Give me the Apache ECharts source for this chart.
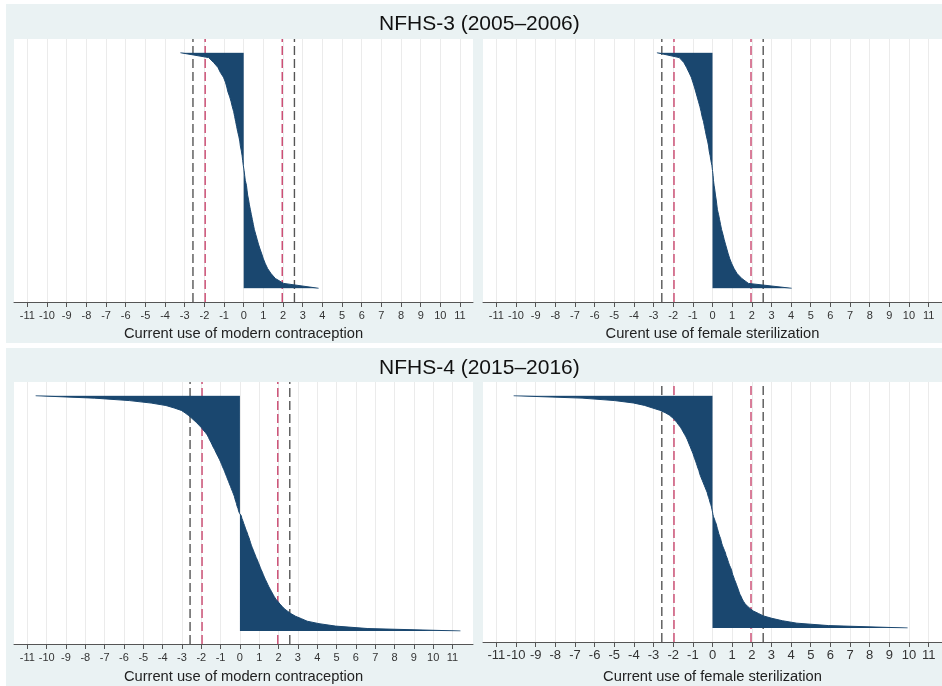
<!DOCTYPE html>
<html>
<head>
<meta charset="utf-8">
<title>NFHS caterpillar plots</title>
<script src="https://cdn.jsdelivr.net/npm/echarts@6/dist/echarts.min.js"></script>
<style>
  html, body { margin: 0; padding: 0; background: #fff; }
  #wrap { position: relative; width: 942px; height: 686px; overflow: hidden; }
  .bg { position: absolute; left: 6px; width: 936px; background: #eaf2f3; }
  #chart { position: absolute; left: 0; top: 0; width: 942px; height: 686px; }
</style>
</head>
<body>
<div id="wrap">
  <div class="bg" style="top:4px;height:339px"></div>
  <div class="bg" style="top:348px;height:338px"></div>
  <div id="chart"></div>
</div>
<script>
// sorted z-scores, read top to bottom (NFHS-3 at 49 ranks, NFHS-4 at 97 ranks)
const ranks3 = [1,2,3,4,5,6,7,8,9,10,11,12,13,14,15,16,17,18,19,20,21,22,23,24,25,
  26,27,28,29,30,31,32,33,34,35,36,37,38,39,40,41,42,43,44,45,46,47,48,49];
const ranks4 = [1,2,3,4,5,6,7,8,9,10,11,12,13,14,15,16,17,18,19,20,21,22,23,24,25,
  26,27,28,29,30,31,32,33,34,35,36,37,38,39,40,41,42,43,44,45,46,47,48,49,50,
  51,52,53,54,55,56,57,58,59,60,61,62,63,64,65,66,67,68,69,70,71,72,73,74,75,
  76,77,78,79,80,81,82,83,84,85,86,87,88,89,90,91,92,93,94,95,96,97];
const ticks = [-11,-10,-9,-8,-7,-6,-5,-4,-3,-2,-1,0,1,2,3,4,5,6,7,8,9,10,11];
const cut95 = [-1.96, 1.96];
const cut99 = [-2.58, 2.58];
const surveyTitles = ['NFHS-3 (2005\u20132006)', 'NFHS-4 (2015\u20132016)'];
const axisNames = [
  'Current use of modern contraception',
  'Curent use of female sterilization',
  'Current use of modern contraception',
  'Current use of female sterilization'
];

const modern3 = [-3.22,-1.78,-1.53,-1.31,-1.19,-1.03,-0.93,-0.86,-0.80,-0.71,-0.64,-0.58,
  -0.51,-0.46,-0.41,-0.36,-0.31,-0.25,-0.20,-0.17,-0.12,-0.08,-0.05,-0.02,0.02,0.05,0.08,
  0.14,0.17,0.20,0.25,0.29,0.34,0.39,0.44,0.49,0.54,0.61,0.68,0.75,0.83,0.92,1.00,1.10,
  1.22,1.39,1.61,2.03,3.81];
const sterilization3 = [-2.83,-1.69,-1.46,-1.32,-1.20,-1.08,-1.00,-0.92,-0.85,-0.78,-0.71,
  -0.64,-0.58,-0.53,-0.46,-0.41,-0.36,-0.31,-0.25,-0.20,-0.17,-0.12,-0.08,-0.03,0.00,0.03,
  0.05,0.08,0.12,0.15,0.19,0.22,0.25,0.31,0.36,0.41,0.46,0.53,0.59,0.66,0.73,0.80,0.88,
  0.98,1.10,1.25,1.49,1.83,4.03];
const modern4 = [-10.57,-7.52,-5.71,-4.59,-3.83,-3.40,-3.03,-2.84,-2.67,-2.52,-2.38,-2.24,
  -2.12,-2.00,-1.90,-1.79,-1.69,-1.63,-1.57,-1.50,-1.44,-1.38,-1.31,-1.25,-1.19,-1.12,
  -1.06,-1.00,-0.95,-0.90,-0.84,-0.79,-0.74,-0.69,-0.64,-0.59,-0.54,-0.49,-0.44,-0.39,
  -0.34,-0.29,-0.26,-0.22,-0.18,-0.15,-0.10,-0.07,-0.02,
  0.07,0.10,0.15,0.19,0.24,0.28,0.33,0.38,0.42,0.47,0.51,0.55,0.59,0.64,0.69,0.74,0.79,
  0.84,0.90,0.95,1.00,1.05,1.10,1.16,1.21,1.26,1.32,1.38,1.44,1.50,1.57,1.64,1.71,1.78,
  1.86,1.97,2.07,2.19,2.31,2.48,2.66,2.88,3.19,3.48,4.09,4.95,6.62,11.41];
const sterilization4 = [-10.12,-6.64,-5.00,-4.03,-3.46,-3.08,-2.69,-2.41,-2.20,-2.05,-1.92,
  -1.82,-1.73,-1.63,-1.56,-1.49,-1.42,-1.35,-1.29,-1.24,-1.19,-1.14,-1.09,-1.04,-0.99,
  -0.95,-0.91,-0.86,-0.82,-0.78,-0.74,-0.69,-0.66,-0.62,-0.57,-0.52,-0.47,-0.42,-0.37,
  -0.32,-0.27,-0.24,-0.20,-0.16,-0.13,-0.09,-0.05,-0.03,0.00,
  0.02,0.05,0.10,0.14,0.19,0.22,0.25,0.29,0.32,0.36,0.41,0.44,0.47,0.51,0.56,0.61,0.66,
  0.69,0.74,0.78,0.82,0.86,0.92,0.97,1.00,1.03,1.08,1.12,1.17,1.22,1.26,1.31,1.35,1.39,
  1.46,1.51,1.58,1.66,1.78,1.92,2.08,2.34,2.59,3.02,3.56,4.29,5.90,9.93];

const values = [modern3, sterilization3, modern4, sterilization4];
const rankSets = [ranks3, ranks3, ranks4, ranks4];

const FONT = '"Liberation Sans", Arial, sans-serif';
const NAVY = '#1a476f';

// panel boxes (pixels) and axis ranges
const panels = [
  { left: 14, top: 39, width: 459, height: 263, barTop: 52.7, barBottom: 288.3, min: -11.68, max: 11.66, labelSize: 11, labelMargin: 8, nameGap: 24 },
  { left: 483, top: 39, width: 459, height: 263, barTop: 52.7, barBottom: 288.3, min: -11.68, max: 11.68, labelSize: 11, labelMargin: 8, nameGap: 24 },
  { left: 14, top: 382, width: 459, height: 262, barTop: 395.7, barBottom: 631, min: -11.69, max: 12.06, labelSize: 11, labelMargin: 8, nameGap: 25 },
  { left: 483, top: 382, width: 459, height: 260, barTop: 395.7, barBottom: 628, min: -11.68, max: 11.68, labelSize: 13, labelMargin: 7, nameGap: 27 }
];

const grid = [], xAxis = [], yAxis = [], series = [];

panels.forEach(function (p, i) {
  const o = i * 2, n = i * 2 + 1;
  grid.push({ left: p.left, top: p.top, width: p.width, height: p.height, show: true,
    backgroundColor: '#fff', borderWidth: 0, outerBoundsMode: 'none', containLabel: false });
  grid.push({ left: p.left, top: p.barTop, width: p.width, height: p.barBottom - p.barTop,
    outerBoundsMode: 'none', containLabel: false });

  xAxis.push({
    gridIndex: o, type: 'value', min: p.min, max: p.max,
    name: axisNames[i], nameLocation: 'middle', nameGap: p.nameGap,
    nameTextStyle: { fontFamily: FONT, fontSize: 14.7, color: '#222' },
    axisLine: { show: true, onZero: false, lineStyle: { color: '#555', width: 1 } },
    axisTick: { show: true, customValues: ticks, length: 5, lineStyle: { color: '#555' } },
    axisLabel: { customValues: ticks, fontFamily: FONT, fontSize: p.labelSize, color: '#333', margin: p.labelMargin },
    splitLine: { show: true, lineStyle: { color: '#ebebeb', width: 1 } }
  });
  xAxis.push({ gridIndex: n, type: 'value', min: p.min, max: p.max, show: false });
  yAxis.push({ gridIndex: o, type: 'value', min: 0, max: 1, show: false });
  yAxis.push({ gridIndex: n, type: 'category', data: rankSets[i], inverse: true, boundaryGap: false, show: false });

  cut99.forEach(function (c) {
    series.push({ type: 'line', xAxisIndex: o, yAxisIndex: o, data: [[c, 0], [c, 1]],
      symbol: 'none', silent: true, z: 1,
      lineStyle: { color: '#555', width: 1.4, type: [9, 4] } });
  });
  cut95.forEach(function (c) {
    series.push({ type: 'line', xAxisIndex: o, yAxisIndex: o, data: [[c, 0], [c, 1]],
      symbol: 'none', silent: true, z: 1,
      lineStyle: { color: '#c9456d', width: 1.4, type: [9, 4] } });
  });

  series.push({
    type: 'line', xAxisIndex: n, yAxisIndex: n, data: values[i],
    symbol: 'none', showSymbol: false, silent: true, z: 3,
    lineStyle: { color: NAVY, width: 1 },
    areaStyle: { color: NAVY, opacity: 1 }
  });
});

const chart = echarts.init(document.getElementById('chart'), null, { renderer: 'canvas' });
chart.setOption({
  animation: false,
  backgroundColor: 'transparent',
  title: [
    { text: surveyTitles[0], left: 374, top: 9, textStyle: { fontFamily: FONT, fontSize: 21, fontWeight: 'normal', color: '#111' } },
    { text: surveyTitles[1], left: 374, top: 353, textStyle: { fontFamily: FONT, fontSize: 21, fontWeight: 'normal', color: '#111' } }
  ],
  grid: grid,
  xAxis: xAxis,
  yAxis: yAxis,
  series: series
});
</script>
</body>
</html>
